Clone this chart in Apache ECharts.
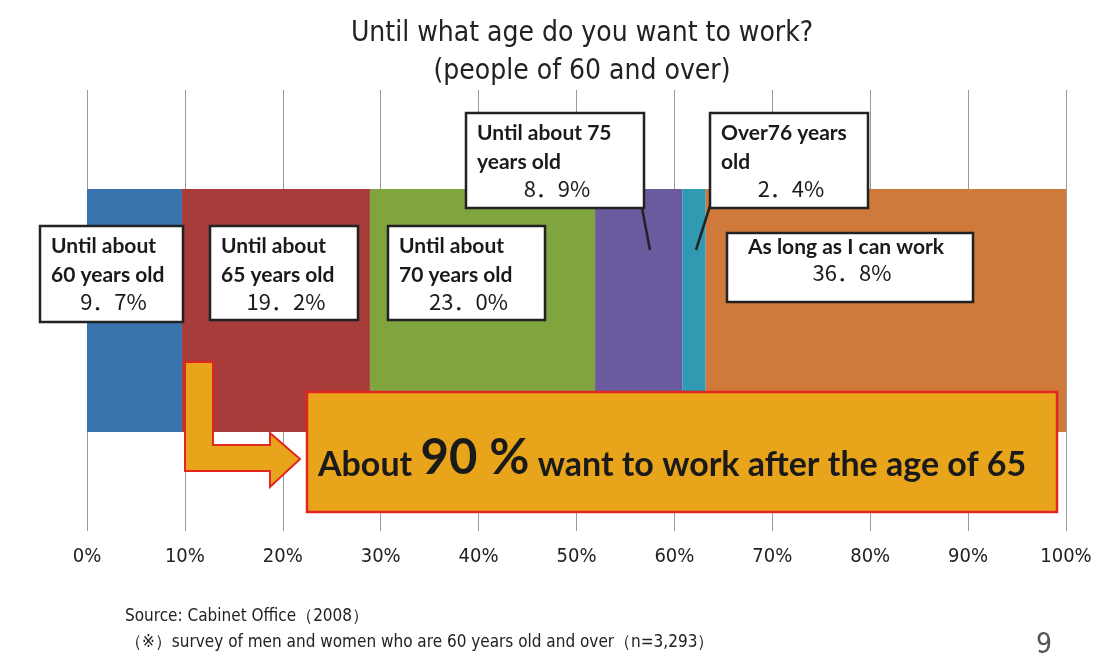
<!DOCTYPE html>
<html>
<head>
<meta charset="utf-8">
<title>Until what age do you want to work?</title>
<script src="https://cdn.jsdelivr.net/npm/echarts@6/dist/echarts.min.js"></script>
<style>
  html, body { margin: 0; padding: 0; background: #fff; }
  #main { width: 1096px; height: 657px; }
</style>
</head>
<body>
<div id="main"></div>
<script>
// answers (percent of respondents)
var answerNames = ['Until about 60 years old', 'Until about 65 years old', 'Until about 70 years old',
  'Until about 75 years old', 'Over76 years old', 'As long as I can work'];
var answerValues = [9.7, 19.2, 23.0, 8.9, 2.4, 36.8];
var answerColors = ['#3873ae', '#a83c3b', '#80a53f', '#6a5a9e', '#2f9ab1', '#cf793b'];
var groupName = ['60 and over'];
var xTicks = { min: 0, max: 100, interval: 10 };

var narrow = '"Liberation Sans Narrow", "DejaVu Sans Condensed", sans-serif';
var boldFont = 'Lato, "Open Sans", sans-serif';
var pctFont = '"Noto Sans CJK JP", sans-serif';

function pct(v) {
  return v.toFixed(1).replace('.', '．') + '%';
}

// white label box: lines of bold text, then the percentage centred
function labelBox(x, y, w, h, lines, value, center) {
  var top = center ? 14 : 20;   // the one-line box sits tighter
  var step = center ? 26 : 28;
  var kids = [{
    type: 'rect', z: 100,
    shape: { x: x, y: y, width: w, height: h },
    style: { fill: '#fff', stroke: '#222', lineWidth: 2.5 }
  }];
  lines.forEach(function (t, i) {
    kids.push({
      type: 'text', z: 101,
      style: {
        text: t, x: center ? x + w / 2 - 4 : x + 11, y: y + top + i * 29,
        font: 'bold 21px ' + boldFont, fill: '#1a1a1a',
        align: center ? 'center' : 'left', verticalAlign: 'middle'
      }
    });
  });
  kids.push({
    type: 'text', z: 101,
    style: {
      text: pct(value), x: x + w / 2 + 2, y: y + top + lines.length * step,
      font: '22px ' + pctFont, fill: '#1a1a1a',
      align: 'center', verticalAlign: 'middle'
    }
  });
  return { type: 'group', z: 100, children: kids };
}

var chart = echarts.init(document.getElementById('main'));

var series = answerNames.map(function (n, i) {
  return {
    name: n,
    type: 'bar',
    stack: 'total',
    barWidth: 243,
    itemStyle: { color: answerColors[i] },
    data: [answerValues[i]]
  };
});

var option = {
  backgroundColor: '#fff',
  animation: false,
  title: {
    text: 'Until what age do you want to work?\n(people of 60 and over)',
    left: 577,
    textAlign: 'center',
    top: 10,
    textStyle: { fontFamily: narrow, fontSize: 28, fontWeight: 'normal', color: '#222', lineHeight: 38 }
  },
  grid: { left: 87, right: 30, top: 90, bottom: 126 },
  xAxis: {
    type: 'value',
    min: xTicks.min,
    max: xTicks.max,
    interval: xTicks.interval,
    axisLine: { show: false },
    axisTick: { show: false },
    axisLabel: {
      formatter: '{value}%', margin: 16,
      fontFamily: narrow, fontSize: 20, color: '#222'
    },
    splitLine: { lineStyle: { color: '#9a9a9a', width: 1 } }
  },
  yAxis: {
    type: 'category',
    data: groupName,
    show: false
  },
  series: series,
  graphic: [
    labelBox(40, 226, 143, 96, ['Until about', '60 years old'], answerValues[0]),
    labelBox(210, 226, 148, 94, ['Until about', '65 years old'], answerValues[1]),
    labelBox(388, 226, 157, 94, ['Until about', '70 years old'], answerValues[2]),
    labelBox(466, 113, 178, 95, ['Until about 75', 'years old'], answerValues[3]),
    labelBox(710, 113, 158, 95, ['Over76 years', 'old'], answerValues[4]),
    labelBox(727, 233, 246, 69, ['As long as I can work'], answerValues[5], true),
    {
      type: 'line', z: 100,
      shape: { x1: 642, y1: 208, x2: 650, y2: 250 },
      style: { stroke: '#222', lineWidth: 2.5 }
    },
    {
      type: 'line', z: 100,
      shape: { x1: 710, y1: 206, x2: 696, y2: 250 },
      style: { stroke: '#222', lineWidth: 2.5 }
    },
    {
      type: 'polygon', z: 100,
      shape: {
        points: [[185, 362], [213, 362], [213, 445], [270, 445], [270, 433], [300, 459],
          [270, 487], [270, 471], [185, 471]]
      },
      style: { fill: '#e8a51b', stroke: '#e3261f', lineWidth: 2 }
    },
    {
      type: 'rect', z: 100,
      shape: { x: 307, y: 392, width: 750, height: 120 },
      style: { fill: '#e8a51b', stroke: '#e3261f', lineWidth: 2.5 }
    },
    {
      type: 'text', z: 101,
      style: {
        text: '{a|About }{b|90 %}{a| want to work after the age of 65}',
        x: 318, y: 458, align: 'left', verticalAlign: 'middle',
        rich: {
          a: { font: 'bold 34px ' + boldFont, fill: '#1a1a1a', verticalAlign: 'bottom' },
          b: { font: 'bold 49px ' + boldFont, fill: '#1a1a1a', verticalAlign: 'bottom' }
        }
      }
    },
    {
      type: 'text',
      style: {
        text: 'Source: Cabinet Office（2008）', x: 125, y: 617,
        font: '17px ' + narrow, fill: '#222', verticalAlign: 'middle'
      }
    },
    {
      type: 'text',
      style: {
        text: '（※）survey of men and women who are 60 years old and over（n=3,293）', x: 125, y: 643,
        font: '17px ' + narrow, fill: '#222', verticalAlign: 'middle'
      }
    },
    {
      type: 'text',
      style: {
        text: '9', x: 1036, y: 646,
        font: '28px ' + narrow, fill: '#555', verticalAlign: 'middle'
      }
    }
  ]
};

chart.setOption(option);
</script>
</body>
</html>
